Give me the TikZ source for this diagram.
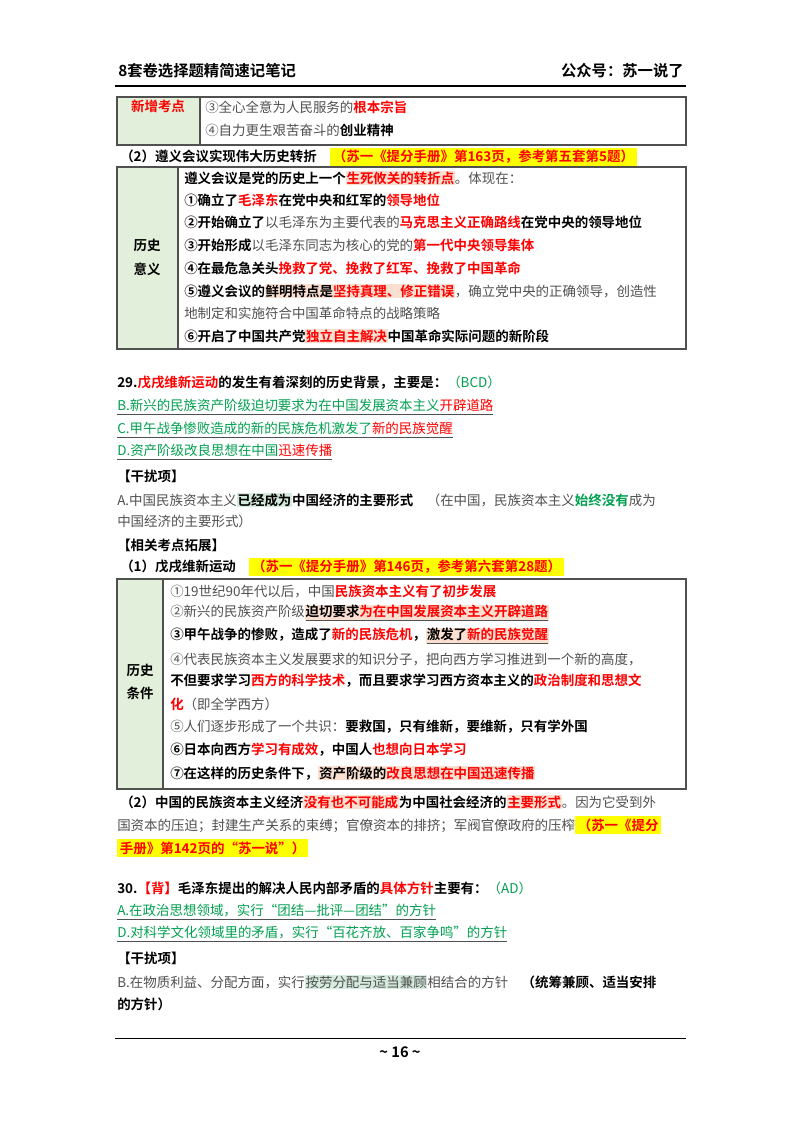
\documentclass[tikz,border=0pt]{standalone}
\usepackage{fontspec}
\setmainfont{Noto Sans CJK SC}[BoldFont={Noto Sans CJK SC Bold}]
\XeTeXlinebreaklocale "zh"
\definecolor{rd}{HTML}{FF0000}
\definecolor{gy}{HTML}{505050}
\definecolor{gn}{HTML}{00A050}
\definecolor{hlp}{HTML}{FBE0D2}
\definecolor{hlg}{HTML}{D5EBDD}
\definecolor{lgn}{HTML}{E2EFDA}
\definecolor{yl}{HTML}{FFFF00}
\newcommand{\rb}[1]{\textbf{\color{rd}#1}}
\newcommand{\bk}[1]{\textbf{\color{black}#1}}
\newcommand{\grn}[1]{{\color{gn}#1}}
\newcommand{\hlx}[1]{{\setlength{\fboxsep}{0.5pt}\colorbox{hlp}{#1}}}
\newcommand{\hlgx}[1]{{\setlength{\fboxsep}{0.5pt}\colorbox{hlg}{#1}}}
\newcommand{\ylx}[1]{{\setlength{\fboxsep}{2pt}\colorbox{yl}{\rb{#1}}}}
\newcommand{\ulx}[1]{\underline{#1}}
\begin{document}
\begin{tikzpicture}[x=0.75pt,y=-0.75pt,
  txt/.style={anchor=west,inner sep=0pt,font=\fontsize{10.1}{13}\selectfont,text=gy},
  btxt/.style={txt,text=black,font=\fontsize{10.1}{13}\selectfont\bfseries},
  lab/.style={inner sep=0pt,font=\fontsize{10.1}{13}\selectfont\bfseries},
  tbl/.style={draw=gy,line width=0.8pt}]
\useasboundingbox (0,0) rectangle (800,1132);
\fill[white] (0,0) rectangle (800,1132);
% header
\node[txt,text=black,font=\fontsize{11.5}{13}\selectfont\bfseries] (h1) at (118,71) {8套卷选择题精简速记笔记};
\node[txt,anchor=east,text=black,font=\fontsize{11.5}{13}\selectfont\bfseries] (h2) at (684,71) {公众号：苏一说了};
\draw[line width=1pt] (115,86) -- (686,86);
% table 1
\fill[lgn] (117,97) rectangle (200,145);
\draw[tbl] (117,97) rectangle (686,145);
\draw[tbl] (200,97) -- (200,145);
\node[lab,text=rd] (t1l) at (158,106) {新增考点};
\node[txt] (t1a) at (205,107) {③全心全意为人民服务的\rb{根本宗旨}};
\node[txt] (t1b) at (205,130) {④自力更生艰苦奋斗的\bk{创业精神}};
% (2)
\node[btxt] (s2) at (120,157) {（2）遵义会议实现伟大历史转折\quad\ylx{（苏一《提分手册》第163页，参考第五套第5题）}};
% table 2
\fill[lgn] (117,167) rectangle (178,349);
\draw[tbl] (117,167) rectangle (686,349);
\draw[tbl] (178,167) -- (178,349);
\node[lab] (t2l1) at (147,245) {历史};
\node[lab] (t2l2) at (147,269) {意义};
\node[txt] (a0) at (184,178) {\bk{遵义会议是党的历史上一个}\hlx{\rb{生死攸关的转折点}}。体现在：};
\node[txt] (a1) at (184,200) {\bk{①确立了}\rb{毛泽东}\bk{在党中央和红军的}\rb{领导地位}};
\node[txt] (a2) at (184,222) {\bk{②开始确立了}以毛泽东为主要代表的\rb{马克思主义正确路线}\bk{在党中央的领导地位}};
\node[txt] (a3) at (184,245) {\bk{③开始形成}以毛泽东同志为核心的党的\rb{第一代中央领导集体}};
\node[txt] (a4) at (184,268) {\bk{④在最危急关头}\rb{挽救了党、挽救了红军、挽救了中国革命}};
\node[txt] (a5) at (184,291) {\bk{⑤遵义会议的}\hlx{\bk{鲜明特点是}\rb{坚持真理、修正错误}}，确立党中央的正确领导，创造性};
\node[txt] (a5b) at (184,313) {地制定和实施符合中国革命特点的战略策略};
\node[txt] (a6) at (184,336) {\bk{⑥开启了中国共产党}\hlx{\rb{独立自主解决}}\bk{中国革命实际问题的新阶段}};
% Q29
\node[txt] (q29) at (117,383) {\bk{29.}\rb{戊戌维新运动}\bk{的发生有着深刻的历史背景，主要是：}\grn{（BCD）}};
\node[txt] (q29b) at (117,407) {\ulx{\grn{B.新兴的民族资产阶级迫切要求为在中国发展资本主义}{\color{rd}开辟道路}}};
\node[txt] (q29c) at (117,430) {\ulx{\grn{C.甲午战争惨败造成的新的民族危机激发了}{\color{rd}新的民族觉醒}}};
\node[txt] (q29d) at (117,452) {\ulx{\grn{D.资产阶级改良思想在中国}{\color{rd}迅速传播}}};
\node[btxt] (gr1) at (117,476) {【干扰项】};
\node[txt] (q29a) at (117,500) {A.中国民族资本主义\hlgx{\bk{已经成为}}\bk{中国经济的主要形式}\quad（在中国，民族资本主义\grn{\textbf{始终没有}}成为};
\node[txt] (q29a2) at (117,521) {中国经济的主要形式）};
\node[btxt] (kz) at (117,545) {【相关考点拓展】};
\node[btxt] (s1) at (120,567) {（1）戊戌维新运动\quad\ylx{（苏一《提分手册》第146页，参考第六套第28题）}};
% table 3
\fill[lgn] (117,579) rectangle (163,789);
\draw[tbl] (117,579) rectangle (686,789);
\draw[tbl] (163,579) -- (163,789);
\node[lab] (t3l1) at (140,670) {历史};
\node[lab] (t3l2) at (140,693) {条件};
\node[txt] (b1) at (170,591) {①19世纪90年代以后，中国\rb{民族资本主义有了初步发展}};
\node[txt] (b2) at (170,613) {②新兴的民族资产阶级\hlx{\ulx{\bk{迫切要求}\rb{为在中国发展资本主义开辟道路}}}};
\node[txt] (b3) at (170,636) {\bk{③甲午战争的惨败，造成了}\rb{新的民族危机}\bk{，}\hlx{\ulx{\bk{激发了}\rb{新的民族觉醒}}}};
\node[txt] (b4) at (170,659) {④代表民族资本主义发展要求的知识分子，把向西方学习推进到一个新的高度，};
\node[txt] (b4b) at (170,681) {\bk{不但要求学习}\rb{西方的科学技术}\bk{，而且要求学习西方资本主义的}\rb{政治制度和思想文}};
\node[txt] (b4c) at (170,704) {\rb{化}（即全学西方）};
\node[txt] (b5) at (170,727) {⑤人们逐步形成了一个共识：\bk{要救国，只有维新，要维新，只有学外国}};
\node[txt] (b6) at (170,750) {\bk{⑥日本向西方}\rb{学习有成效}\bk{，中国人}\rb{也想向日本学习}};
\node[txt] (b7) at (170,773) {\bk{⑦在这样的历史条件下，}\hlx{\bk{资产阶级的}\rb{改良思想在中国迅速传播}}};
\node[txt] (c1) at (120,802) {\bk{（2）中国的民族资本主义经济}\hlx{\rb{没有也不可能成}}\bk{为中国社会经济的}\hlx{\rb{主要形式}}。因为它受到外};
\node[txt] (c2) at (117,825) {国资本的压迫；封建生产关系的束缚；官僚资本的排挤；军阀官僚政府的压榨\ylx{（苏一《提分}};
\node[txt] (c3) at (117,848) {\ylx{手册》第142页的“苏一说”）}};
% Q30
\node[txt] (q30) at (117,888) {\bk{30.}\rb{【背】}\bk{毛泽东提出的解决人民内部矛盾的}\rb{具体方针}\bk{主要有：}\grn{（AD）}};
\node[txt] (q30a) at (117,912) {\ulx{\grn{A.在政治思想领域，实行“团结—批评—团结”的方针}}};
\node[txt] (q30d) at (117,934) {\ulx{\grn{D.对科学文化领域里的矛盾，实行“百花齐放、百家争鸣”的方针}}};
\node[btxt] (gr2) at (117,958) {【干扰项】};
\node[txt] (q30b) at (117,982) {B.在物质利益、分配方面，实行\hlgx{按劳分配与适当兼顾}相结合的方针\quad\bk{（统筹兼顾、适当安排}};
\node[txt] (q30b2) at (117,1004) {\bk{的方针）}};
% footer
\draw[line width=0.6pt] (115,1038) -- (686,1038);
\node[inner sep=0pt,font=\fontsize{11}{13}\selectfont\bfseries] (ft) at (400,1052) {\textasciitilde{} 16 \textasciitilde};
\end{tikzpicture}
\end{document}
